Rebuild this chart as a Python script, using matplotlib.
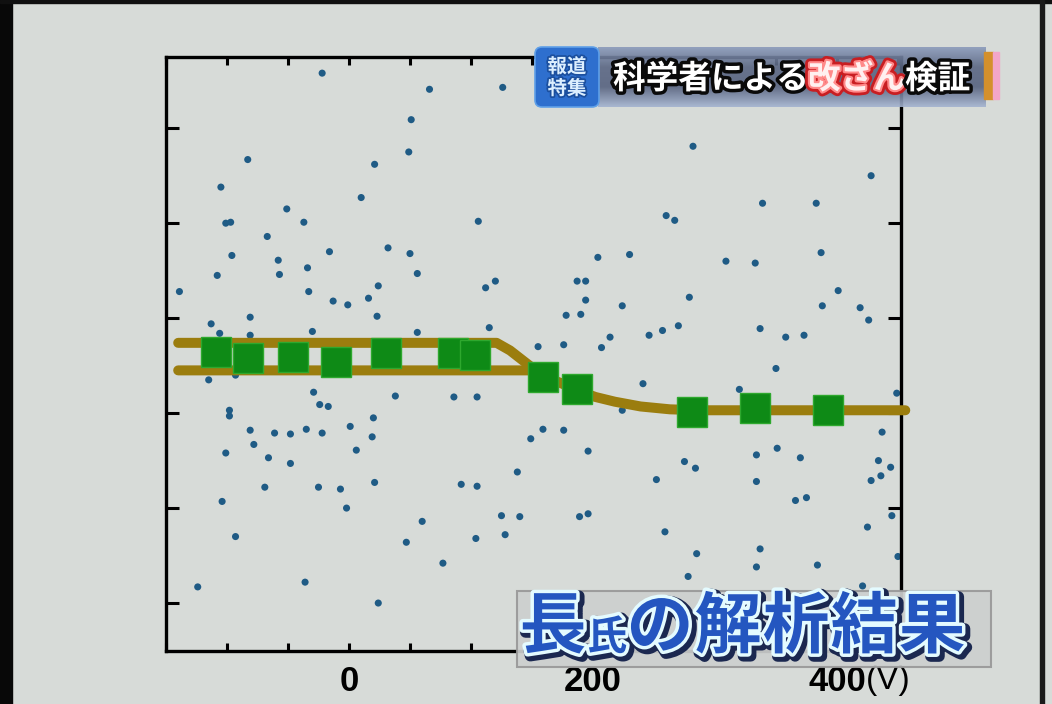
import numpy as np
import matplotlib.pyplot as plt
import matplotlib.patches as mpatches
import matplotlib.patheffects as pe
from matplotlib.colors import LinearSegmentedColormap
from matplotlib.transforms import IdentityTransform
from matplotlib.ticker import MultipleLocator, FixedLocator, FuncFormatter

# scattered raw measurements (bias in V, signal in arbitrary units)
dot_x = [-22, 66, 51, 49, -83, 21, -105, 10, -51, -101, -97, -37, -67, 32, -16, 50, -96, -58, -34, -108,
         -57, 56, -139, -33, 24, -13, -1, 16, -81, 23, -113, -106, -81, -30, 56,
         -115, -93, -29, -24, -17, 38, -98, -98, -81, -61, -48, -35, -22, 1, 20, 19, -78, -101, -66, -48,
         6, -69, -25, -7, 21, -104, -2, -93, 60, 47, 77, -124, -36, 24,
         126, 282, 106, 260, 267, 204, 230, 120, 112, 187, 194, 194, 224, 279, 178, 190, 115, 214, 246, 257, 270,
         428, 339, 383, 387, 309, 333, 401, 388, 419, 426, 337, 358, 373,
         155, 176, 207, 241, 86, 105, 224, 159, 176, 149, 196, 138, 275, 284, 252, 92, 105, 125, 140, 189,
         196, 259, 104, 128, 285, 278,
         350, 320, 449, 437, 351, 334, 370, 434, 444, 436, 428, 334, 366, 375, 445, 425, 337, 334, 384, 450, 421]
dot_y = [5.58, 5.41, 5.09, 4.75, 4.67, 4.62, 4.38, 4.27, 4.15, 4.00, 4.01, 4.01, 3.86, 3.74, 3.70, 3.68, 3.66, 3.61, 3.53, 3.45,
         3.46, 3.47, 3.28, 3.28, 3.34, 3.18, 3.14, 3.21, 3.01, 3.02, 2.94, 2.84, 2.82, 2.86, 2.85,
         2.35, 2.40, 2.22, 2.09, 2.07, 2.18, 2.03, 1.97, 1.82, 1.79, 1.78, 1.83, 1.79, 1.86, 1.95, 1.75, 1.67, 1.58, 1.53, 1.47,
         1.61, 1.22, 1.22, 1.20, 1.27, 1.07, 1.00, 0.70, 0.86, 0.64, 0.42, 0.17, 0.22, 0.00,
         5.43, 4.81, 4.02, 4.08, 4.03, 3.64, 3.67, 3.39, 3.32, 3.39, 3.39, 3.19, 3.13, 3.22, 3.03, 3.04, 2.90, 2.80, 2.82, 2.87, 2.92,
         4.50, 4.21, 4.21, 3.69, 3.60, 3.58, 3.29, 3.13, 3.11, 2.98, 2.89, 2.80, 2.82,
         2.70, 2.72, 2.69, 2.31, 2.17, 2.17, 2.03, 1.83, 1.82, 1.73, 1.60, 1.38, 1.49, 1.42, 1.30, 1.25, 1.23, 0.92, 0.91, 0.91,
         0.94, 0.75, 0.68, 0.72, 0.52, 0.28,
         2.47, 2.25, 2.21, 1.80, 1.63, 1.56, 1.53, 1.50, 1.43, 1.34, 1.29, 1.28, 1.08, 1.11, 0.92, 0.80, 0.57, 0.38, 0.40, 0.49, 0.18]

# averaged points
avg_x = [-109, -83, -46, -11, 30, 85, 103, 159, 187, 281, 333, 393]
avg_y = [2.64, 2.58, 2.59, 2.54, 2.63, 2.63, 2.61, 2.38, 2.25, 2.01, 2.05, 2.03]

# fitted curves: upper branch and main step
upper_x = [-140, 121, 132, 142, 152, 159]
upper_y = [2.74, 2.74, 2.66, 2.56, 2.46, 2.42]
lower_x = [-140, 148, 159, 173, 187, 202, 218, 239, 263, 288, 456]
lower_y = [2.45, 2.45, 2.39, 2.32, 2.24, 2.17, 2.12, 2.07, 2.04, 2.03, 2.03]

x_labels = {0: '0', 200: '200', 400: '400'}
y_ticks = [0, 1, 2, 3, 4, 5]

W, H = 1052, 704
BG = '#d7dbd8'


def fig_rect(x0, y0, x1, y1):
    # pixel box (from top-left) -> figure fraction [left, bottom, width, height]
    return [x0 / W, 1 - y1 / H, (x1 - x0) / W, (y1 - y0) / H]


def fx(px):
    return px / W


def fy(py):
    return 1 - py / H


plt.rcParams['font.family'] = ['Noto Sans CJK JP', 'DejaVu Sans']

fig = plt.figure(figsize=(W / 100, H / 100), dpi=100, facecolor=BG)
ax = fig.add_axes(fig_rect(166, 57, 901, 651), facecolor=BG)

ax.scatter(dot_x, dot_y, s=26, color='#1f5b85', edgecolors='none', zorder=2)
ax.plot(upper_x, upper_y, color='#9b7d0e', lw=7.2, solid_capstyle='round',
        solid_joinstyle='round', zorder=3)
ax.plot(lower_x, lower_y, color='#9b7d0e', lw=7.2, solid_capstyle='round',
        solid_joinstyle='round', zorder=3, clip_on=False)
ax.plot(avg_x, avg_y, ls='none', marker='s', ms=21, color='#0e8a16',
        markeredgecolor='#2ea82e', markeredgewidth=1, zorder=4)

ax.set_xlim(-150, 452.5)
ax.set_ylim(-0.505, 5.75)
ax.xaxis.set_major_locator(MultipleLocator(50))
ax.xaxis.set_major_formatter(FuncFormatter(lambda v, p: x_labels.get(int(round(v)), '')))
ax.yaxis.set_major_locator(FixedLocator(y_ticks))
ax.set_yticklabels([])
ax.tick_params(direction='in', width=2.2, top=True, right=True, color='black')
ax.tick_params(axis='x', length=5.5, pad=10)
ax.tick_params(axis='y', length=9.5)
for lab in ax.get_xticklabels():
    lab.set_fontfamily('Liberation Sans')
    lab.set_fontsize(25)
    lab.set_fontweight('bold')
for s in ax.spines.values():
    s.set_linewidth(2.4)
ax.annotate('(V)', xy=(400, 0), xycoords=('data', 'axes fraction'),
            xytext=(21, -10), textcoords='offset points', ha='left', va='top',
            fontsize=24, family='Liberation Sans', annotation_clip=False)

# video frame edges
fig.add_artist(mpatches.Rectangle((0, 0), fx(12), 1, transform=fig.transFigure,
                                  color='#080808', zorder=6))
fig.add_artist(mpatches.Rectangle((0, fy(3)), 1, 3 / H, transform=fig.transFigure,
                                  color='#101010', zorder=6))
fig.add_artist(mpatches.Rectangle((fx(1040), 0), 4 / W, 1, transform=fig.transFigure,
                                  color='#1a1a1a', zorder=6))

# top caption bar
bax = fig.add_axes(fig_rect(598, 47, 986, 107), zorder=5)
bar_cmap = LinearSegmentedColormap.from_list('bar', ['#8a9aba', '#5a6683', '#56627f', '#a3b2cf'])
bax.imshow(np.linspace(0, 1, 64)[:, None], aspect='auto', cmap=bar_cmap, alpha=0.9)
bax.axis('off')

logo = mpatches.FancyBboxPatch((535, H - 107), 64, 60, boxstyle='round,pad=0,rounding_size=7',
                               transform=IdentityTransform(), facecolor='#2e6fce',
                               edgecolor='#5fa0e8', lw=1.2, zorder=7)
fig.add_artist(logo)
for txt, py in [('報道', 67), ('特集', 89)]:
    fig.text(fx(567), fy(py), txt, ha='center', va='center', fontsize=14, fontweight='bold',
             color='#dcefff', zorder=8,
             path_effects=[pe.Stroke(linewidth=2.5, foreground='#1b4f9e'), pe.Normal()])

fig.add_artist(mpatches.Rectangle((fx(984), fy(99)), 9 / W, 47 / H, transform=fig.transFigure,
                                  color='#d4902c', zorder=7))
fig.add_artist(mpatches.Rectangle((fx(993), fy(99)), 6 / W, 47 / H, transform=fig.transFigure,
                                  color='#f3a6c8', zorder=7))

white_fx = [pe.Stroke(linewidth=5, foreground='#0a0a0a'), pe.Normal()]
red_fx = [pe.Stroke(linewidth=7, foreground='#c81e22'), pe.Stroke(linewidth=3, foreground='#ff8a8a'),
          pe.Normal()]
fig.text(fx(613), fy(79), '科学者による', ha='left', va='center', fontsize=23.5,
         fontweight='bold', color='white', zorder=8, path_effects=white_fx)
fig.text(fx(808), fy(79), '改ざん', ha='left', va='center', fontsize=23.5,
         fontweight='bold', color='#fff0f0', zorder=8, path_effects=red_fx)
fig.text(fx(905), fy(79), '検証', ha='left', va='center', fontsize=23.5,
         fontweight='bold', color='white', zorder=8, path_effects=white_fx)

# bottom caption box
fig.add_artist(mpatches.Rectangle((fx(517), fy(667)), 474 / W, 76 / H, transform=fig.transFigure,
                                  facecolor='#cdd0cf', edgecolor='#989898', lw=1.5, alpha=0.92,
                                  zorder=6))
cap_fx = [pe.Stroke(linewidth=8, foreground='#1b2850', offset=(2, -2)),
          pe.Stroke(linewidth=5, foreground='#e4fbff'), pe.Normal()]
caption = [('長', 553, 628, 48), ('氏', 607, 638, 29), ('の', 660, 628, 48), ('解', 728, 628, 48),
           ('析', 796, 628, 48), ('結', 864, 628, 48), ('果', 932, 628, 48)]
for ch, px, py, size in caption:
    fig.text(fx(px), fy(py), ch, ha='center', va='center', fontsize=size, fontweight='bold',
             color='#2456c0', zorder=8, path_effects=cap_fx)

fig.savefig('out.png', dpi=100, facecolor=BG)
